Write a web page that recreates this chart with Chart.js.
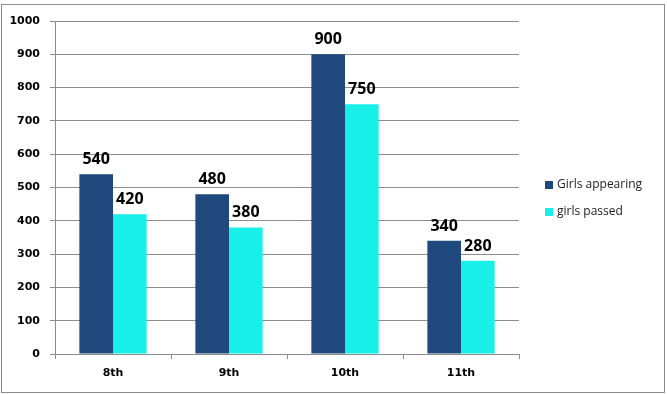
<!DOCTYPE html>
<html>
<head>
<meta charset="utf-8">
<script src="https://cdn.jsdelivr.net/npm/chart.js@4/dist/chart.umd.min.js"></script>
<style>
  html, body { margin: 0; padding: 0; background: #fff; }
  #wrap { position: relative; width: 667px; height: 394px; }
  #frame { position: absolute; left: 1px; top: 4px; width: 662px; height: 387px; border: 1px solid #8c8c8c; pointer-events: none; }
  canvas { position: absolute; left: 0; top: 0; }
</style>
</head>
<body>
<div id="wrap">
  <canvas id="chart" width="667" height="394"></canvas>
  <div id="frame"></div>
</div>
<script>
/* ---- data ---- */
const grades = ["8th", "9th", "10th", "11th"];
const girlsAppearing = [540, 480, 900, 340];
const girlsPassed = [420, 380, 750, 280];
const yTicks = [0, 100, 200, 300, 400, 500, 600, 700, 800, 900, 1000];

const NAVY = "#1f497d";
const CYAN = "#19efe9";
const GRID = "#8c8c8c";

/* labels above every bar */
const valueLabels = {
    id: "valueLabels",
    afterDatasetsDraw(chart) {
        const ctx = chart.ctx;
        ctx.save();
        ctx.font = "bold 16px 'Open Sans'";
        ctx.fillStyle = "#000";
        ctx.textAlign = "center";
        ctx.textBaseline = "alphabetic";
        chart.data.datasets.forEach((ds, i) => {
            chart.getDatasetMeta(i).data.forEach((bar, j) => {
                ctx.fillText(String(ds.data[j]), bar.x, bar.y - 10);
            });
        });
        ctx.restore();
    }
};

/* legend on the right, drawn by hand so the plot width stays fixed */
const sideLegend = {
    id: "sideLegend",
    afterDraw(chart) {
        const ctx = chart.ctx;
        ctx.save();
        ctx.font = "12px 'Open Sans'";
        ctx.textBaseline = "middle";
        chart.data.datasets.forEach((ds, i) => {
            const y = 185 + i * 27;
            ctx.fillStyle = ds.backgroundColor;
            ctx.fillRect(545, y - 4, 8, 8);
            ctx.fillStyle = "#222";
            ctx.fillText(ds.label, 557, y);
        });
        ctx.restore();
    }
};

new Chart(document.getElementById("chart"), {
    type: "bar",
    data: {
        labels: grades,
        datasets: [
            { label: "Girls appearing", data: girlsAppearing, backgroundColor: NAVY },
            { label: "girls passed", data: girlsPassed, backgroundColor: CYAN }
        ]
    },
    options: {
        responsive: false,
        animation: false,
        layout: { padding: { left: 0, top: 21, right: 148, bottom: 0 } },
        plugins: { legend: { display: false }, tooltip: { enabled: false } },
        datasets: { bar: { categoryPercentage: 0.58, barPercentage: 1.0 } },
        scales: {
            x: {
                grid: { offset: true, drawOnChartArea: false, drawTicks: true, tickLength: 5, color: GRID },
                border: { color: GRID },
                ticks: { color: "#000", font: { family: "DejaVu Sans", size: 11, weight: "bold" }, padding: 8 },
                afterFit(scale) { scale.height = 40; }
            },
            y: {
                min: 0,
                max: 1000,
                afterBuildTicks(scale) { scale.ticks = yTicks.map(v => ({ value: v })); },
                grid: { color: GRID, tickLength: 5 },
                border: { color: GRID },
                ticks: {
                    color: "#000",
                    font: { family: "DejaVu Sans", size: 11, weight: "bold" },
                    padding: 10,
                    callback: v => String(v)
                },
                afterFit(scale) { scale.width = 55; }
            }
        }
    },
    plugins: [valueLabels, sideLegend]
});
</script>
</body>
</html>
